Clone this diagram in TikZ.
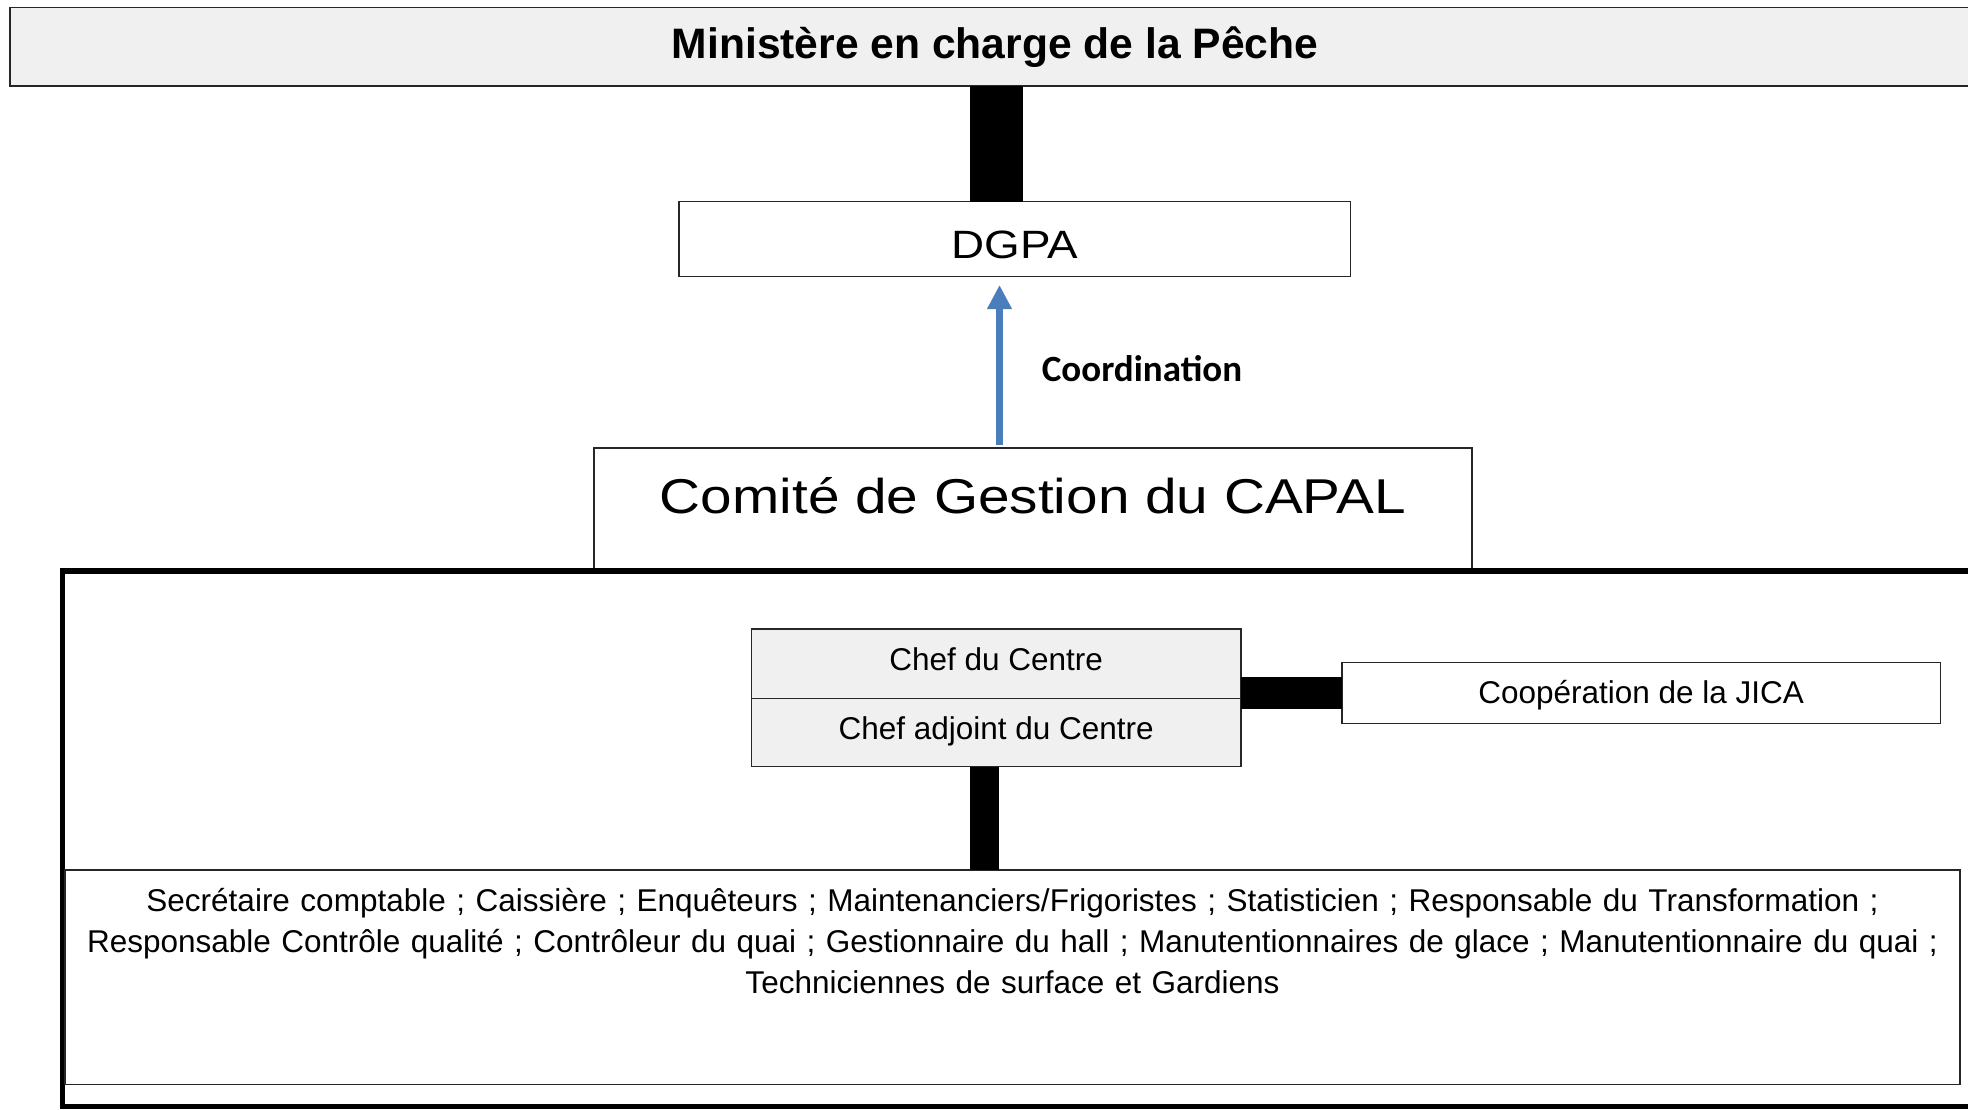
\documentclass[tikz,border=0pt]{standalone}
\usepackage{fontspec}
\setmainfont{Liberation Sans}
\newfontfamily\widefont[FakeStretch=1.16]{Liberation Sans}
\newfontfamily\labelfont{Carlito}
\usetikzlibrary{arrows.meta, calc, positioning}
\definecolor{paleGray}{RGB}{240,240,240}
\definecolor{linkblue}{RGB}{74,126,187}
\frenchspacing

\begin{document}
\begin{tikzpicture}[x=1pt, y=-1pt, >=Triangle,
        unit/.style={draw=black!85, line width=1.3pt, inner sep=0pt, outer sep=0pt, align=center},
        graybox/.style={unit, fill=paleGray},
        bar/.style={line width=#1, black},
        staffsize/.style={font=\fontsize{31.5}{41.4}\selectfont}]
        \useasboundingbox (0,0) rectangle (1968,1110);

        % Top levels
        \node[graybox, minimum width=1970pt, text height=51pt, text depth=27.7pt, font=\fontsize{42.6}{50}\selectfont\bfseries] (ministere) at (995,46.65) {Ministère en charge de la Pêche};
        \node[unit, minimum width=671.6pt, text height=56.6pt, text depth=18.4pt, font=\widefont\fontsize{39.5}{45}\selectfont] (dgpa) at (1014.8,239.2) {DGPA};
        \node[unit, minimum width=878pt, text height=65.3pt, text depth=57.7pt, font=\widefont\fontsize{48.9}{54}\selectfont] (comite) at (1033,509.5) {Comité de Gestion du CAPAL};

        % Centre frame
        \draw[line width=5.3pt] (62.3,571) rectangle (2000,1106.5);

        % Centre
        \node[graybox, staffsize, minimum width=489.75pt, text height=41pt, text depth=28.3pt] (chef) at (996.1,663.65) {Chef du Centre};
        \node[graybox, staffsize, minimum width=489.75pt, text height=40.7pt, text depth=27.7pt, below=0pt of chef] (adjoint) {Chef adjoint du Centre};
        \node[unit, staffsize, minimum width=598.4pt, text height=40.7pt, text depth=20.3pt] (jica) at (1641.2,692.8) {Coopération de la JICA};

        % Staff
        \node[unit, minimum width=1895pt, minimum height=214.3pt] (staff) at (1012.5,977.15) {};
        \node[staffsize, anchor=base, inner sep=0pt, text width=1920pt, align=center] (stafflist) at (1012.5,911) {Secrétaire comptable ; Caissière ; Enquêteurs ; Maintenanciers/Frigoristes ; Statisticien ; Responsable du Transformation ;\\
            Responsable Contrôle qualité ; Contrôleur du quai ; Gestionnaire du hall ; Manutentionnaires de glace ; Manutentionnaire du quai ;\\
            Techniciennes de surface et Gardiens};

        % Links
        \draw[bar=52.8pt] ([xshift=-18.4pt]dgpa.north) -- ([xshift=-18.4pt]dgpa.north |- ministere.south);
        \draw[bar=32.3pt] (chef.east |- jica.west) -- (jica.west);
        \draw[bar=29pt] ([xshift=-11.6pt]adjoint.south) -- ([xshift=-11.6pt]adjoint.south |- staff.north);

        \draw[->, linkblue, line width=7.3pt, >={Triangle[width=23.3pt, length=24pt]}, shorten <=3pt, shorten >=8.3pt] ([xshift=-33.5pt]comite.north) -- ([xshift=-33.5pt]comite.north |- dgpa.south);
        \node[anchor=base west, inner sep=0pt, font=\labelfont\bfseries\fontsize{37}{44}\selectfont] (coordlabel) at (1041.7,381.7) {Coordination};
    \end{tikzpicture}
\end{document}
